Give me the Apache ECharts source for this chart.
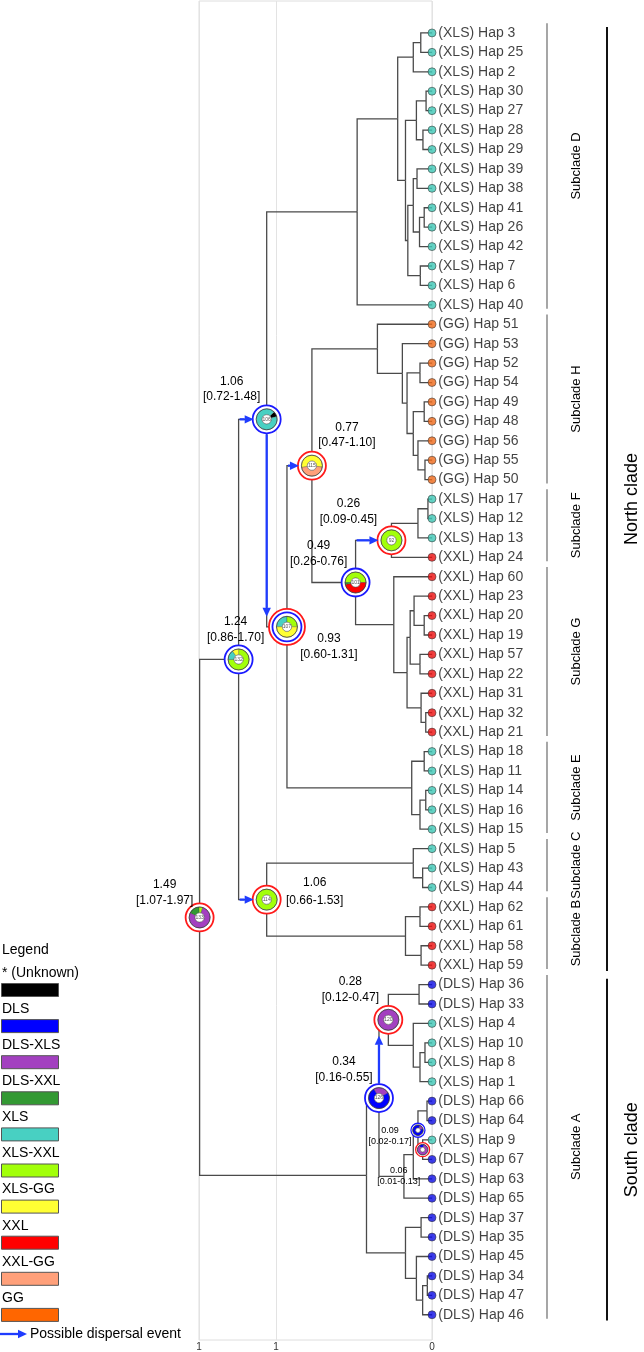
<!DOCTYPE html>
<html><head><meta charset="utf-8">
<script src="https://cdn.jsdelivr.net/npm/echarts@6/dist/echarts.min.js"></script>
<style>html,body{margin:0;padding:0;background:#fff}#c{width:644px;height:1352px}</style>
</head><body><div id="c"></div>
<script>
// ---------------- DATA ----------------
const tipRegions = ['XLS','XLS','XLS','XLS','XLS','XLS','XLS','XLS','XLS','XLS','XLS','XLS','XLS','XLS','XLS',
  'GG','GG','GG','GG','GG','GG','GG','GG','GG',
  'XLS','XLS','XLS','XXL',
  'XXL','XXL','XXL','XXL','XXL','XXL','XXL','XXL','XXL',
  'XLS','XLS','XLS','XLS','XLS',
  'XLS','XLS','XLS',
  'XXL','XXL','XXL','XXL',
  'DLS','DLS','XLS','XLS','XLS','XLS',
  'DLS','DLS','XLS','DLS','DLS','DLS',
  'DLS','DLS','DLS','DLS','DLS','DLS'];
const tipHaps = [3,25,2,30,27,28,29,39,38,41,26,42,7,6,40,
  51,53,52,54,49,48,56,55,50,
  17,12,13,24,
  60,23,20,19,57,22,31,32,21,
  18,11,14,16,15,
  5,43,44,
  62,61,58,59,
  36,33,4,10,8,1,
  66,64,9,67,63,65,
  37,35,45,34,47,46];
// topology: tip indices, internal node ages (Ma) after ':'
const treeNewick =
 "(((((((0,1):0.072,2):0.12,(((3,4):0.038,(5,6):0.058):0.10,(((7,8):0.096,((9,10):0.05,11):0.08):0.12,(12,13):0.075):0.155):0.17):0.22,14):0.48," +
 "(((15,(16,((17,18):0.077,((19,20):0.05,(21,(22,23):0.045):0.09):0.12):0.16):0.19):0.35," +
 "((((24,25):0.026,26):0.09,27):0.26,(28,(((29,(30,31):0.05):0.115,(32,33):0.077):0.14,(34,(35,36):0.04):0.07):0.16):0.245):0.49):0.77," +
 "((37,38):0.05,((39,40):0.04,41):0.077):0.13):0.93):1.06," +
 "((42,(43,44):0.06):0.12,((45,46):0.077,(47,48):0.07):0.17):1.06):1.24," +
 "((((49,50):0.083,(51,((52,53):0.045,54):0.077):0.12):0.28,((((55,56):0.032,(57,58):0.06):0.09,59):0.12,60):0.18):0.34," +
 "((61,62):0.07,(63,((64,65):0.03,66):0.06):0.1):0.17):0.42):1.49";

// annotated nodes (identified by their first and last tip)
const annotFirstTip = [0, 0, 0, 15, 15, 24, 24, 42, 49, 49, 55, 57];
const annotLastTip  = [66,48,41, 41, 36, 36, 27, 48, 54, 60, 58, 58];
const annotAge = ['1.49','1.24','1.06','0.93','0.77','0.49','0.26','1.06','0.28','0.34','0.09','0.06'];
const annotCI  = ['[1.07-1.97]','[0.86-1.70]','[0.72-1.48]','[0.60-1.31]','[0.47-1.10]','[0.26-0.76]',
                  '[0.09-0.45]','[0.66-1.53]','[0.12-0.47]','[0.16-0.55]','[0.02-0.17]','[0.01-0.13]'];
const annotNodeNo = ['133','132','106','107','115','101','92','114','120','126','',''];
const annotRings = [['XXL'],['DLS'],['DLS'],['XXL','DLS'],['XXL'],['DLS'],['XXL'],['XXL'],['XXL'],['DLS'],['DLS'],['XXL']];
const annotPieAreas = [
  ['DLS-XXL','XLS-XXL','DLS-XLS'],
  ['XLS-XXL','XLS','XLS-GG'],
  ['* (Unknown)','XLS'],
  ['XLS','XLS-XXL','XLS-GG'],
  ['XLS-GG','XXL-GG'],
  ['XLS-XXL','XXL','DLS-XXL'],
  ['XLS-XXL'],
  ['XLS-XXL'],
  ['DLS-XLS'],
  ['DLS-XLS','DLS'],
  ['DLS-XLS','DLS'],
  ['DLS','DLS-XLS']];
const annotPieProbs = [
  [0.17,0.06,0.77],
  [0.75,0.15,0.10],
  [0.08,0.92],
  [0.25,0.25,0.50],
  [0.55,0.45],
  [0.50,0.47,0.03],
  [1],
  [1],
  [1],
  [0.25,0.75],
  [0.15,0.85],
  [0.15,0.85]];
// dispersal arrows: horizontal into node k; vertical from node a to node b
const arrowIntoNode = [2, 4, 6, 7];
const arrowAlongFrom = [2, 9];
const arrowAlongTo   = [3, 8];

const cladeNames = ['Subclade D','Subclade H','Subclade F','Subclade G','Subclade E','Subclade C','Subclade B','Subclade A'];
const cladeFirst = [0,15,24,28,37,42,45,49];
const cladeLast  = [14,23,27,36,41,44,48,66];
const majorNames = ['North clade','South clade'];
const majorFirst = [0,49];
const majorLast  = [48,66];

const legendNames = ['* (Unknown)','DLS','DLS-XLS','DLS-XXL','XLS','XLS-XXL','XLS-GG','XXL','XXL-GG','GG'];
const axisTickValues = [0, 1, 1.494];

// ---------------- STYLE / LAYOUT ----------------
const legendColors = ['#000000','#0000ff','#a340c0','#339933','#48d0c2','#a2ff0a','#ffff33','#ff0000','#ffa07a','#ff6600'];
const areaColor = {}; legendNames.forEach((n,i)=>areaColor[n]=legendColors[i]);
const tipColor = {XLS:'#3fc8b6', GG:'#f06a1a', XXL:'#ee0f0f', DLS:'#0c0ce6'};
const ringColor = {XXL:'#ff1a1a', DLS:'#1a1aff'};
const ff = '"Liberation Sans", Arial, Helvetica, sans-serif';
const labelOffset = [[-35,-33,-17],[-3,-38,-22],[-35,-38,-23],[42,12,28],[35,-38,-23],[-37,-37,-21],
                     [-43,-37,-21],[48,-17,1],[-38,-38,-22],[-35,-36,-20],[-28,0,11],[-24,21,32]];
const nodeScale = [1,1,1,1,1,1,1,1,1,1,0.5,0.5];
const pieStartDeg = [-65,0,45,-90,-100,-90,0,0,0,-30,20,-40];
const arrowTipGap = [10,16];
const arrowBlue = '#1f3cff';

// ---------------- TREE LAYOUT ----------------
function parseNewick(s){
  let i=0;
  function num(){const st=i; while(i<s.length && /[0-9.]/.test(s[i])) i++; return parseFloat(s.slice(st,i));}
  function node(){
    if(s[i]==='('){
      i++; const children=[node()];
      while(s[i]===','){i++; children.push(node());}
      i++;
      let age=0; if(s[i]===':'){i++; age=num();}
      return {children, age};
    }
    return {tip:num(), age:0, children:[]};
  }
  return node();
}
const root = parseNewick(treeNewick);
const internal=[]; const nodeByKey={};
(function lay(n,parent){
  n.parent=parent;
  if(!n.children.length){n.y=n.tip; n.first=n.tip; n.last=n.tip; return;}
  n.children.forEach(c=>lay(c,n));
  n.y=(n.children[0].y+n.children[n.children.length-1].y)/2;
  n.first=n.children[0].first; n.last=n.children[n.children.length-1].last;
  internal.push(n); nodeByKey[n.first+'-'+n.last]=n;
})(root,null);
const annotNodes = annotFirstTip.map((f,k)=>nodeByKey[f+'-'+annotLastTip[k]]);

const branchData=[];
internal.forEach(n=>n.children.forEach(c=>branchData.push({coords:[[n.age,n.y],[n.age,c.y],[c.age,c.y]]})));

function outerR(k){ return (annotRings[k].length===2?18:14)*nodeScale[k]; }

function renderNode(params, api){
  const k = api.value(2);
  const p = api.coord([api.value(0), api.value(1)]);
  const sc = nodeScale[k];
  const kids=[];
  const rr = annotRings[k].length===2 ? [18,14.5] : [14];
  annotRings[k].forEach((col,j)=>kids.push({type:'circle', shape:{cx:p[0],cy:p[1],r:rr[j]*sc},
    style:{fill:'#fff', stroke:ringColor[col], lineWidth:1.8*Math.max(sc,0.7)}}));
  const R=10.5*sc, r0=4.6*sc;
  let a = (pieStartDeg[k]-90)*Math.PI/180;
  annotPieAreas[k].forEach((ar,j)=>{
    const d = annotPieProbs[k][j]*2*Math.PI;
    kids.push({type:'sector', shape:{cx:p[0],cy:p[1],r:R,r0:r0,startAngle:a,endAngle:a+d,clockwise:true},
      style:{fill:areaColor[ar], stroke:'#333', lineWidth:0.3}});
    a+=d;
  });
  kids.push({type:'circle', shape:{cx:p[0],cy:p[1],r:R}, style:{fill:null, stroke:'#333', lineWidth:0.7}});
  kids.push({type:'circle', shape:{cx:p[0],cy:p[1],r:r0}, style:{fill:'#fff', stroke:'#666', lineWidth:0.6}});
  if(annotNodeNo[k]) kids.push({type:'text', x:p[0], y:p[1], style:{text:annotNodeNo[k], font:'5px '+ff, fill:'#555', align:'center', verticalAlign:'middle'}});
  const o = labelOffset[k]; const fs = sc<1?9:12;
  kids.push({type:'text', x:p[0]+o[0], y:p[1]+o[1], style:{text:annotAge[k], font:fs+'px '+ff, fill:'#000', align:'center', verticalAlign:'middle'}});
  kids.push({type:'text', x:p[0]+o[0], y:p[1]+o[2], style:{text:annotCI[k], font:fs+'px '+ff, fill:'#000', align:'center', verticalAlign:'middle'}});
  return {type:'group', children:kids};
}

function arrowShape(x1,y1,x2,y2){
  const dx=x2-x1, dy=y2-y1, len=Math.hypot(dx,dy), ux=dx/len, uy=dy/len;
  const hl=9, hw=4.2;
  const bx=x2-ux*hl, by=y2-uy*hl;
  return [
    {type:'line', shape:{x1,y1,x2:bx,y2:by}, style:{stroke:arrowBlue, lineWidth:2.3}},
    {type:'polygon', shape:{points:[[x2,y2],[bx-uy*hw,by+ux*hw],[bx+uy*hw,by-ux*hw]]}, style:{fill:arrowBlue}}
  ];
}
function renderArrow(params, api){
  const j = api.value(2);
  if(j < arrowIntoNode.length){
    const k = arrowIntoNode[j], n = annotNodes[k];
    const p = api.coord([n.age, n.y]), q = api.coord([n.parent.age, n.y]);
    return {type:'group', children:arrowShape(q[0]+1, p[1], p[0]-outerR(k)+1, p[1])};
  }
  const m = j-arrowIntoNode.length;
  const ka = arrowAlongFrom[m], kb = arrowAlongTo[m];
  const na = annotNodes[ka], nb = annotNodes[kb];
  const pa = api.coord([na.age, na.y]), pb = api.coord([na.age, nb.y]);
  const dir = pb[1]>pa[1]?1:-1;
  return {type:'group', children:arrowShape(pa[0], pa[1]+dir*(outerR(ka)+1), pa[0], pb[1]-dir*arrowTipGap[m])};
}

function renderClade(params, api){
  const k = api.value(2);
  const major = api.value(3)===1;
  const f = major?majorFirst[k]:cladeFirst[k], l = major?majorLast[k]:cladeLast[k];
  const x0 = api.coord([0,0])[0];
  const y1 = api.coord([0, f-(major?0.3:0.5)])[1], y2 = api.coord([0, l+(major?0.3:0.2)])[1];
  const bx = x0 + (major?175:115), tx = x0 + (major?200:144);
  return {type:'group', children:[
    {type:'line', shape:{x1:bx,y1:y1,x2:bx,y2:y2}, style:{stroke:major?'#111':'#777', lineWidth:major?2:1.3}},
    {type:'text', x:tx, y:(y1+y2)/2, rotation:Math.PI/2,
      style:{text:major?majorNames[k]:cladeNames[k], font:(major?18:13)+'px '+ff, fill:'#000', align:'center', verticalAlign:'middle'}}
  ]};
}

// legend graphic
const g = [{type:'text', x:2, y:950, style:{text:'Legend', font:'14px '+ff, fill:'#000', verticalAlign:'middle'}}];
legendNames.forEach((nm,k)=>{
  const cy = 973 + k*36.1;
  g.push({type:'text', x:2, y:cy, style:{text:nm, font:'14px '+ff, fill:'#000', verticalAlign:'middle'}});
  g.push({type:'rect', shape:{x:1.5, y:cy+10.5, width:57, height:13}, style:{fill:legendColors[k], stroke:'#555', lineWidth:1}});
});
const ay = 973 + 10*36.1;
g.push({type:'line', shape:{x1:0, y1:ay, x2:18, y2:ay}, style:{stroke:arrowBlue, lineWidth:2.3}});
g.push({type:'polygon', shape:{points:[[27,ay],[18,ay-4.2],[18,ay+4.2]]}, style:{fill:arrowBlue}});
g.push({type:'text', x:30, y:ay, style:{text:'Possible dispersal event', font:'14px '+ff, fill:'#000', verticalAlign:'middle'}});

const chart = echarts.init(document.getElementById('c'));
chart.setOption({
  animation:false,
  textStyle:{fontFamily:ff},
  grid:{left:199, right:212, top:1, bottom:10, show:true, borderColor:'#dedede', borderWidth:1},
  xAxis:{type:'value', inverse:true, min:0, max:1.494, interval:1,
    axisLine:{show:false}, axisTick:{show:false},
    splitLine:{show:true, lineStyle:{color:'#e3e3e3', width:1}},
    axisLabel:{customValues:axisTickValues, formatter:v=>String(Math.floor(v+1e-6)), fontSize:10, color:'#333', margin:2, showMaxLabel:true, showMinLabel:true}},
  yAxis:{type:'value', inverse:true, min:-1.645, max:67.3, show:false},
  graphic:g,
  series:[
    {type:'lines', coordinateSystem:'cartesian2d', polyline:true, data:branchData, silent:true, z:2,
      lineStyle:{color:'#4a4a4a', width:1.3, opacity:1}},
    {type:'scatter', data:tipHaps.map((h,i)=>({value:[0,i], itemStyle:{color:tipColor[tipRegions[i]]}})),
      symbolSize:8, z:5, silent:true,
      itemStyle:{borderColor:'#333', borderWidth:0.7},
      label:{show:true, position:'right', distance:2, fontSize:14, color:'#111', fontFamily:ff,
        formatter:p=>'('+tipRegions[p.dataIndex]+') Hap '+tipHaps[p.dataIndex]}},
    {type:'custom', renderItem:renderNode, clip:false, silent:true, z:6,
      data:annotNodes.map((n,k)=>[n.age,n.y,k])},
    {type:'custom', renderItem:renderArrow, clip:false, silent:true, z:7,
      data:[...arrowIntoNode.map((k,j)=>[annotNodes[k].age, annotNodes[k].y, j]),
            ...arrowAlongFrom.map((k,m)=>[annotNodes[k].age, annotNodes[k].y, arrowIntoNode.length+m])]},
    {type:'custom', renderItem:renderClade, clip:false, silent:true, z:3,
      data:[...cladeNames.map((c,k)=>[0,cladeFirst[k],k,0]), ...majorNames.map((c,k)=>[0,majorFirst[k],k,1])]}
  ]
});
</script></body></html>
